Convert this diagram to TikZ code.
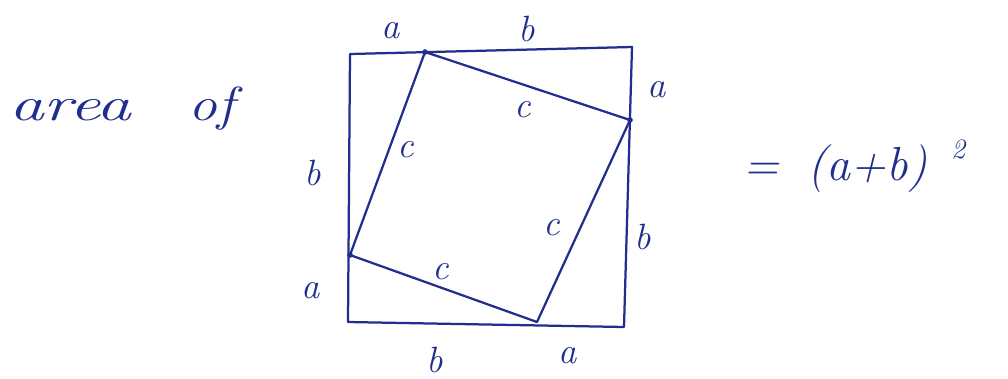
\documentclass[tikz,border=0pt]{standalone}
\usepackage{tikz}
\usetikzlibrary{positioning,calc}
\definecolor{inkblue}{RGB}{32,46,140}

\begin{document}
\begin{tikzpicture}[
    x=0.025cm, y=-0.025cm,
    inkblue, line width=1.6pt, line join=round, line cap=round,
    lbl/.style={font=\fontsize{26}{30}\selectfont\itshape, text=inkblue, inner sep=0pt},
    bigtxt/.style={font=\fontsize{34}{40}\selectfont\itshape, text=inkblue, inner sep=0pt}
]
\useasboundingbox (0,0) rectangle (1008,378);
% outer square
\coordinate (tl) at (350,54);
\coordinate (tr) at (632,47);
\coordinate (br) at (624,327);
\coordinate (bl) at (348,322);
% inner square
\coordinate (qt) at (425,52);
\coordinate (qr) at (630,120);
\coordinate (qb) at (537,322);
\coordinate (ql) at (350,255);

\draw (tl) -- (tr) -- (br) -- (bl) -- cycle;
\draw (qt) -- (qr) -- (qb) -- (ql) -- cycle;
\foreach \p in {qt, qr, ql}
  \fill (\p) circle (2pt);

% side labels
\node[lbl] (ta) at (391,31) {a};
\node[lbl] (tb) at (527,29) {b};
\node[lbl] (ra) at (657,90) {a};
\node[lbl] (rb) at (643,237) {b};
\node[lbl] (lb) at (313,173) {b};
\node[lbl] (la) at (311,291) {a};
\node[lbl] (bb) at (435,360) {b};
\node[lbl] (ba) at (568,356) {a};
% hypotenuse labels
\node[lbl] (ct) at (523,110) {c};
\node[lbl] (cl) at (406,150) {c};
\node[lbl] (cr) at (552,228) {c};
\node[lbl] (cb) at (441,272) {c};

\node[bigtxt, anchor=base west] (area) at (8,120) {\scalebox{1.45}[1]{area}\hspace{1.2em}\scalebox{1.2}[1]{of}};
\node[bigtxt, anchor=base west] (eq) at (742,180) {=\hspace{0.6em}(a+b)};
\node[lbl, anchor=base west] (sq) at (950,158) {\fontsize{20}{24}\selectfont 2};
\end{tikzpicture}
\end{document}
